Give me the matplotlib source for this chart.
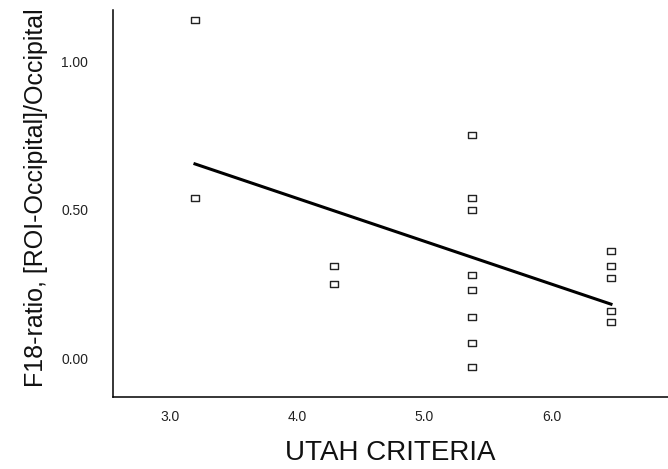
import numpy as np
import matplotlib
matplotlib.use("Agg")
import matplotlib.pyplot as plt
from matplotlib.path import Path

plt.rcParams['font.family'] = ['Liberation Sans', 'DejaVu Sans']

# Utah criteria score and F18 ratio per patient
utah = [3, 3,
        4, 4,
        5, 5, 5, 5, 5, 5, 5, 5,
        6, 6, 6, 6, 6]
f18_ratio = [1.14, 0.54,
             0.31, 0.25,
             0.75, 0.54, 0.50, 0.28, 0.23, 0.14, 0.05, -0.03,
             0.36, 0.31, 0.27, 0.16, 0.12]

x_ticks = [3, 4, 5, 6]
x_ticklabels = ['3.0', '4.0', '5.0', '6.0']
y_ticks = [0.0, 0.5, 1.0]
y_ticklabels = ['0.00', '0.50', '1.00']

# the printed x scale in the original is a bit narrower than the
# spacing of the point columns and starts a little to their left
col_step = 138.7   # px between point columns
lab_step = 127.3   # px between printed tick labels
lab_off = 25.0     # px the "3.0" label sits left of the first column


def to_printed(x):
    return 3 + (lab_off + col_step * (np.asarray(x) - 3)) / lab_step


def from_printed(u):
    return 3 + (lab_step * (np.asarray(u) - 3) - lab_off) / col_step


# hollow rectangle marker, a bit wider than tall
box = Path([(-1, -0.72), (1, -0.72), (1, 0.72), (-1, 0.72), (-1, -0.72)],
           [Path.MOVETO, Path.LINETO, Path.LINETO, Path.LINETO, Path.CLOSEPOLY])

fig = plt.figure(figsize=(6.68, 4.69), dpi=100)
ax = fig.add_axes([113 / 668, 72 / 469, 1 - 113 / 668, 387 / 469])

ax.scatter(utah, f18_ratio, marker=box, s=34, facecolors='white',
           edgecolors='#222222', linewidths=1.0, zorder=3)

# least squares line through the data
slope, icpt = np.polyfit(utah, f18_ratio, 1)
xs = np.array([min(utah), max(utah)])
ax.plot(xs, slope * xs + icpt, color='black', lw=2.2, zorder=2)

ax.set_xlim(2.409, 6.411)
ax.set_ylim(-0.131, 1.172)
ax.set_xticks([])
ax.set_yticks(y_ticks)
ax.set_yticklabels(y_ticklabels)
ax.tick_params(axis='y', length=0, labelsize=10, colors='#222222', pad=18)

sec = ax.secondary_xaxis('bottom', functions=(to_printed, from_printed))
sec.set_xticks(x_ticks)
sec.set_xticklabels(x_ticklabels)
sec.tick_params(axis='x', length=0, labelsize=10, colors='#222222', pad=9)
sec.spines['bottom'].set_visible(False)

for side in ['top', 'right']:
    ax.spines[side].set_visible(False)
for side in ['left', 'bottom']:
    ax.spines[side].set_linewidth(1.1)
    ax.spines[side].set_color('black')

sec.set_xlabel('UTAH CRITERIA', fontsize=20, labelpad=12, color='#111111')
ax.set_ylabel('F18-ratio, [ROI-Occipital]/Occipital', fontsize=18,
              color='#111111')
ax.yaxis.set_label_coords(-0.117, 0.514)

fig.savefig('out.png', dpi=100)
